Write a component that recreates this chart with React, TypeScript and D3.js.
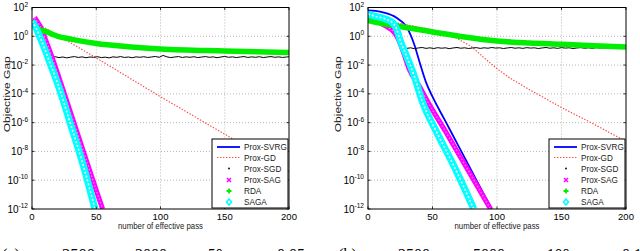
import React from 'react';
import * as d3 from 'd3';

// values are [effective pass, log10(objective gap)]
const xTicks = [0, 50, 100, 150, 200];
const yExps = [2, 0, -2, -4, -6, -8, -10, -12];
const seriesNames = ['Prox-SVRG', 'Prox-GD', 'Prox-SGD', 'Prox-SAG', 'RDA', 'SAGA'];

const svrgA = [[0, 1.0], [5, 0.6], [10, -0.4], [15, -1.6], [20, -2.8], [30, -5.5], [40, -8.2], [50, -10.9], [54, -12.0]];
const gdA = [[0, 1.1], [25, -0.2], [50, -1.5], [100, -4.2], [150, -6.8], [200, -9.4]];
const sgdA = [[0, 1.0], [5, 0.3], [10, -0.5], [14, -1.2], [16, -1.45],
  [18, -1.42], [21, -1.48], [24, -1.44], [27, -1.5], [30, -1.45], [33, -1.41], [36, -1.47], [39, -1.43], [42, -1.49], [45, -1.44],
  [48, -1.46], [51, -1.42], [54, -1.48], [57, -1.45], [60, -1.5], [63, -1.43], [66, -1.46], [69, -1.41], [72, -1.47], [75, -1.44],
  [78, -1.49], [81, -1.43], [84, -1.46], [87, -1.42], [90, -1.47], [93, -1.44], [96, -1.4], [99, -1.46], [102, -1.33], [105, -1.43],
  [108, -1.48], [111, -1.44], [114, -1.41], [117, -1.47], [120, -1.43], [123, -1.46], [126, -1.42], [129, -1.48], [132, -1.44],
  [135, -1.41], [138, -1.46], [141, -1.43], [144, -1.49], [147, -1.44], [150, -1.4], [153, -1.46], [156, -1.43], [159, -1.48],
  [162, -1.44], [165, -1.41], [168, -1.47], [171, -1.43], [174, -1.46], [177, -1.42], [180, -1.48], [183, -1.44], [186, -1.41],
  [189, -1.46], [192, -1.43], [195, -1.47], [198, -1.44], [200, -1.42]];
const sagA = [[2, 1.3], [5, 0.9], [8, 0.4], [10, -0.1], [15, -1.3], [20, -2.6], [30, -5.3], [40, -8.0], [50, -10.7], [55, -12.0]];
const rdaA = [[0, 1.0], [3, 0.65], [6, 0.45], [10, 0.35], [20, 0.0], [30, -0.2], [50, -0.5], [75, -0.72], [100, -0.88], [150, -1.02], [200, -1.12]];
const sagaA = [[0, 1.05], [3, 0.6], [6, 0.0], [10, -0.9], [15, -2.1], [20, -3.3], [30, -6.1], [40, -9.0], [49, -12.0]];

const svrgB = [[0, 1.8], [10, 1.7], [20, 1.4], [25, 1.1], [30, 0.65], [33, 0.1], [36, -0.6], [40, -1.8], [45, -3.2], [50, -4.2], [60, -5.9], [70, -7.6], [80, -9.3], [90, -11.0], [96, -12.0]];
const gdB = [[0, 1.3], [30, 0.8], [50, 0.45], [66, 0.0], [80, -0.7], [90, -1.5], [100, -2.25], [110, -2.9], [125, -3.7], [150, -4.95], [175, -6.1], [200, -7.3]];
const sgdB = [[0, 1.5], [10, 1.0], [15, 0.6], [20, 0.2], [24, -0.4], [27, -0.78],
  [30, -0.84], [33, -0.8], [36, -0.86], [39, -0.81], [42, -0.78], [45, -0.84], [48, -0.8], [51, -0.85], [54, -0.79], [57, -0.83],
  [60, -0.8], [63, -0.86], [66, -0.81], [69, -0.78], [72, -0.83], [75, -0.8], [78, -0.85], [81, -0.81], [84, -0.79], [87, -0.84],
  [90, -0.8], [93, -0.83], [96, -0.78], [99, -0.82], [102, -0.8], [105, -0.85], [108, -0.81], [111, -0.78], [114, -0.83], [117, -0.8],
  [120, -0.84], [123, -0.79], [126, -0.82], [129, -0.8], [132, -0.85], [135, -0.81], [138, -0.78], [141, -0.83], [144, -0.8],
  [147, -0.84], [150, -0.79], [153, -0.82], [156, -0.8], [159, -0.85], [162, -0.81], [165, -0.79], [168, -0.83], [171, -0.8],
  [174, -0.84], [177, -0.79], [180, -0.82], [183, -0.8], [186, -0.85], [189, -0.81], [192, -0.78], [195, -0.83], [198, -0.8], [200, -0.82]];
const sagB = [[0, 1.45], [5, 1.15], [10, 0.9], [15, 0.65], [20, 0.3], [23, -0.1], [27, -1.0], [32, -2.3], [40, -3.5], [46, -4.5], [60, -6.6], [75, -8.9], [95, -12.0]];
const rdaB = [[0, 1.1], [10, 0.9], [25, 0.68], [50, 0.3], [63, 0.12], [75, -0.05], [100, -0.33], [125, -0.47], [150, -0.56], [175, -0.66], [200, -0.75]];
const sagaB = [[0, 1.55], [5, 1.4], [10, 1.3], [15, 1.15], [19, 0.95], [22, 0.55], [25, -0.3], [30, -1.4], [36, -2.8], [42, -4.5], [54, -6.8], [66, -8.9], [82, -12.0]];

const captionA = [['(a)', 2, 18], ['2500', 62, 33], ['2000', 135, 32], ['50', 208, 15], ['0.05', 277, 28]];
const captionB = [['(b)', 338, 19], ['2500', 398, 32], ['5000', 473, 32], ['100', 547, 23], ['0.1', 622, 20]];

const panels = [
  { id: 'a', left: 32, right: 289, ylabX: 10, data: [svrgA, gdA, sgdA, sagA, rdaA, sagaA], caption: captionA },
  { id: 'b', left: 368, right: 626, ylabX: 341, data: [svrgB, gdB, sgdB, sagB, rdaB, sagaB], caption: captionB },
];

const TOP = 7.5;
const BOTTOM = 209;
const font = '"Liberation Sans", Arial, sans-serif';

function Panel({ p }: { p: any }) {
  const x = d3.scaleLinear().domain([0, 200]).range([p.left, p.right]);
  const y = d3.scaleLog().domain([1e-12, 1e2]).range([BOTTOM, TOP]);
  const line = d3.line<number[]>()
    .x(d => x(d[0]))
    .y(d => y(Math.pow(10, d[1])))
    .curve(d3.curveMonotoneX);
  const straight = d3.line<number[]>()
    .x(d => x(d[0]))
    .y(d => y(Math.pow(10, d[1])));
  const [svrg, gd, sgd, sag, rda, saga] = p.data;
  const clipId = 'clip-' + p.id;
  const lgX = p.right - 77;
  const lgY = 139;
  const rowY = [147, 157.5, 168.5, 180, 191, 202];

  return (
    <g>
      <clipPath id={clipId}>
        <rect x={p.left} y={TOP} width={p.right - p.left + 4} height={BOTTOM - TOP} />
      </clipPath>
      <rect x={p.left} y={TOP} width={p.right - p.left} height={BOTTOM - TOP} fill="#fff" />
      {/* grid */}
      {xTicks.slice(1, -1).map(t => (
        <line key={'gx' + t} x1={x(t)} x2={x(t)} y1={TOP} y2={BOTTOM} stroke="#9a9a9a" strokeWidth={0.7} strokeDasharray="1,2" />
      ))}
      {yExps.slice(1, -1).map(e => (
        <line key={'gy' + e} x1={p.left} x2={p.right} y1={y(Math.pow(10, e))} y2={y(Math.pow(10, e))} stroke="#9a9a9a" strokeWidth={0.7} strokeDasharray="1,2" />
      ))}
      <g clipPath={`url(#${clipId})`}>
        <path d={line(svrg) as string} fill="none" stroke="#0000ff" strokeWidth={1.8} />
        <path d={straight(gd) as string} fill="none" stroke="#ff4a4a" strokeWidth={1.2} strokeDasharray="1.4,1.6" />
        <path d={straight(sgd) as string} fill="none" stroke="#000" strokeWidth={1} />
        <path d={line(sag) as string} fill="none" stroke="#ff00ff" strokeWidth={5} />
        <path d={line(sag) as string} fill="none" stroke="#ff80ff" strokeWidth={1.2} strokeDasharray="1.5,2" />
        <path d={line(rda) as string} fill="none" stroke="#00ee00" strokeWidth={5.5} />
        <path d={line(saga) as string} fill="none" stroke="#00ffff" strokeWidth={7} />
        <path d={line(saga) as string} fill="none" stroke="#ffffff" strokeWidth={1.6} strokeDasharray="2,2" />
      </g>
      {/* box and ticks */}
      <rect x={p.left} y={TOP} width={p.right - p.left} height={BOTTOM - TOP} fill="none" stroke="#000" strokeWidth={1} />
      {xTicks.map(t => (
        <g key={'tx' + t}>
          <line x1={x(t)} x2={x(t)} y1={BOTTOM} y2={BOTTOM - 2.5} stroke="#000" strokeWidth={0.8} />
          <line x1={x(t)} x2={x(t)} y1={TOP} y2={TOP + 2.5} stroke="#000" strokeWidth={0.8} />
          <text x={x(t)} y={220} textAnchor="middle" fontSize={9.5} fontFamily={font}>{t}</text>
        </g>
      ))}
      {yExps.map(e => (
        <g key={'ty' + e}>
          <line x1={p.left} x2={p.left + 2.5} y1={y(Math.pow(10, e))} y2={y(Math.pow(10, e))} stroke="#000" strokeWidth={0.8} />
          <line x1={p.right} x2={p.right - 2.5} y1={y(Math.pow(10, e))} y2={y(Math.pow(10, e))} stroke="#000" strokeWidth={0.8} />
          <text x={p.left - 4} y={y(Math.pow(10, e)) + 3.5} textAnchor="end" fontSize={10} fontFamily={font}>
            <tspan>10</tspan>
            <tspan dy={-4.5} fontSize={6.5}>{e}</tspan>
          </text>
        </g>
      ))}
      <text x={(p.left + p.right) / 2} y={229} textAnchor="middle" fontSize={9} fontFamily={font} fill="#222" textLength={85} lengthAdjust="spacingAndGlyphs">number of effective pass</text>
      <text transform={`translate(${p.ylabX},${(TOP + BOTTOM) / 2 - 14}) rotate(-90)`} textAnchor="middle" fontSize={9.5} fontFamily={font} fill="#222" textLength={76} lengthAdjust="spacingAndGlyphs">Objective Gap</text>
      {/* legend */}
      <rect x={lgX} y={lgY} width={76} height={69} fill="#fff" stroke="#000" strokeWidth={1} />
      {seriesNames.map((name, i) => {
        const cy = rowY[i];
        const mx = lgX + 17;
        return (
          <g key={name}>
            {i === 0 && <line x1={lgX + 5} x2={lgX + 28} y1={cy} y2={cy} stroke="#0000ff" strokeWidth={1.8} />}
            {i === 1 && <line x1={lgX + 5} x2={lgX + 28} y1={cy} y2={cy} stroke="#ff4a4a" strokeWidth={1.2} strokeDasharray="1.4,1.6" />}
            {i === 2 && <circle cx={mx} cy={cy} r={0.9} fill="#000" />}
            {i === 3 && <path d={`M${mx - 2},${cy - 2}L${mx + 2},${cy + 2}M${mx - 2},${cy + 2}L${mx + 2},${cy - 2}`} stroke="#ff00ff" strokeWidth={1.5} />}
            {i === 4 && <path d={`M${mx - 2.5},${cy}L${mx + 2.5},${cy}M${mx},${cy - 2.5}L${mx},${cy + 2.5}`} stroke="#00ee00" strokeWidth={1.8} />}
            {i === 5 && <path d={`M${mx},${cy - 3}L${mx + 2.5},${cy}L${mx},${cy + 3}L${mx - 2.5},${cy}Z`} fill="none" stroke="#00ffff" strokeWidth={1.5} />}
            <text x={lgX + 32} y={cy + 3.2} fontSize={8.2} fontFamily={font} fill="#222">{name}</text>
          </g>
        );
      })}
      {/* caption, cut by the bottom edge */}
      {p.caption.map((c: any) => (
        <text key={c[0] + c[1]} x={c[1]} y={260} fontSize={16} fontFamily='"Liberation Serif", serif' textLength={c[2]} lengthAdjust="spacingAndGlyphs">{c[0]}</text>
      ))}
    </g>
  );
}

export default function App() {
  return (
    <svg width={640} height={251} style={{ position: 'absolute', left: 0, top: 0, background: '#fff' }}>
      {panels.map(p => <Panel key={p.id} p={p} />)}
    </svg>
  );
}
